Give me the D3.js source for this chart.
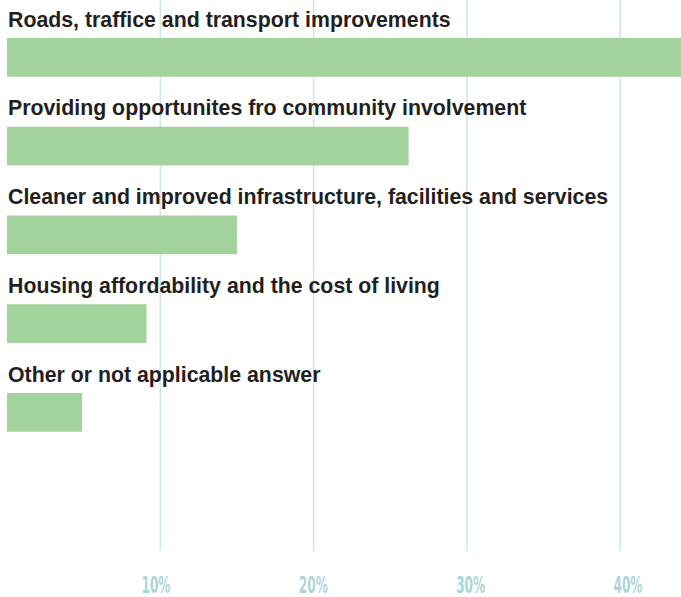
<!DOCTYPE html>
<html>
<head>
<meta charset="utf-8">
<script src="https://cdn.jsdelivr.net/npm/d3@7"></script>
<style>
  body { margin: 0; background: #fff; }
  .cat_label { font-family: "Liberation Sans", Arial, sans-serif; font-weight: bold; font-size: 21.3px; fill: #231f20; }
  .tick_label { font-family: "Liberation Sans Narrow", "DejaVu Sans Condensed", sans-serif; font-weight: bold; font-size: 23px; fill: #acd5d9; }
</style>
</head>
<body>
<div id="chart"></div>
<script>
var categories = [
    "Roads, traffice and transport improvements",
    "Providing opportunites fro community involvement",
    "Cleaner and improved infrastructure, facilities and services",
    "Housing affordability and the cost of living",
    "Other or not applicable answer"
];
var values = [44, 26.2, 15.0, 9.1, 4.9];
var ticks = [10, 20, 30, 40];
var tick_labels = ["10%", "20%", "30%", "40%"];

var width = 681, height = 597;

var svg = d3.select("#chart")
    .append("svg")
    .attr("width", width)
    .attr("height", height);

var x = d3.scaleLinear().domain([0, 44]).range([7, 681.5]);
// tick labels sit slightly off the grid in the original
var x_label = d3.scaleLinear().domain([10, 40]).range([156, 628]);

var y = d3.scaleBand().domain(categories).range([0, 443.75]).paddingInner(0);

//gridlines
svg.append("g")
    .selectAll("line")
    .data(ticks)
    .enter()
    .append("line")
    .attr("x1", d => x(d))
    .attr("x2", d => x(d))
    .attr("y1", 0)
    .attr("y2", 551)
    .style("stroke", "#cde6e8")
    .style("stroke-width", 1.5);

//bars
svg.append("g")
    .selectAll("rect")
    .data(values)
    .enter()
    .append("rect")
    .attr("x", x(0))
    .attr("y", (d, i) => y(categories[i]) + 38)
    .attr("width", d => x(d) - x(0))
    .attr("height", 38.7)
    .style("fill", "#a3d39c");

//category labels
svg.append("g")
    .selectAll("text")
    .data(categories)
    .enter()
    .append("text")
    .attr("class", "cat_label")
    .attr("x", 8)
    .attr("y", d => y(d) + 26.5)
    .text(d => d);

//tick labels
svg.append("g")
    .selectAll("text")
    .data(ticks)
    .enter()
    .append("text")
    .attr("class", "tick_label")
    .attr("x", d => x_label(d))
    .attr("y", 593)
    .attr("text-anchor", "middle")
    .attr("textLength", 29)
    .attr("lengthAdjust", "spacingAndGlyphs")
    .text((d, i) => tick_labels[i]);
</script>
</body>
</html>
